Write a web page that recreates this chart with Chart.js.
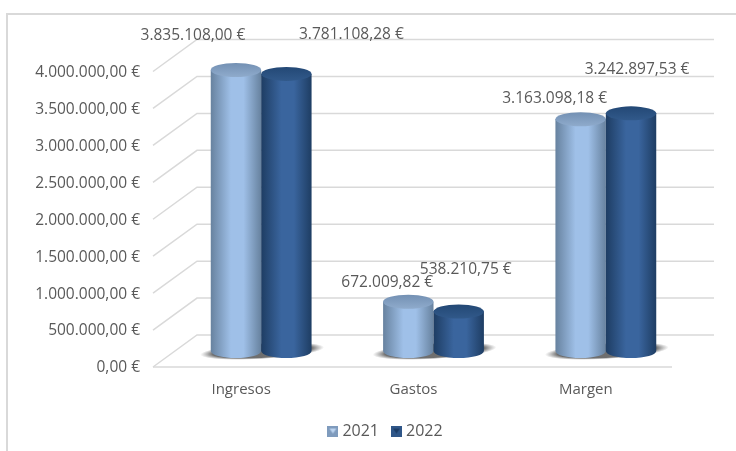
<!DOCTYPE html>
<html>
<head>
<meta charset="utf-8">
<script src="https://cdn.jsdelivr.net/npm/chart.js@4/dist/chart.umd.js"></script>
<style>
  html, body { margin: 0; padding: 0; background: #fff; overflow: hidden; }
  #wrap { position: relative; width: 736px; height: 451px; overflow: hidden; }
  #frame { position: absolute; left: 6px; top: 13px; width: 740px; height: 450px; border: 2px solid #d9d9d9; }
  canvas { position: absolute; left: 0; top: 0; }
</style>
</head>
<body>
<div id="wrap">
  <div id="frame"></div>
  <canvas id="chart" width="736" height="451"></canvas>
</div>
<script>
const categories = ["Ingresos", "Gastos", "Margen"];
const seriesNames = ["2021", "2022"];
const values2021 = [3835108.00, 672009.82, 3163098.18];
const values2022 = [3781108.28, 538210.75, 3242897.53];

// labels were dragged by hand in the original, so each has its own nudge from the bar top
const labelNudge2021 = [[-23, -48], [-1, -35], [-6, -35]];
const labelNudge2022 = [[85, -53], [27, -58], [26, -58]];

const DEPTH_X = 44, DEPTH_Y = 32;     // 3d wall offset
const BAR_DX = 20, BAR_DY = 16;       // bars stand in the middle of the floor
const BAR_SHRINK = 0.992;             // middle of the box is a bit shorter than the axis
const FONT = '"Open Sans"';
const TEXT = '#595959';

const euro = v => v.toLocaleString('es-ES', { minimumFractionDigits: 2, maximumFractionDigits: 2 }) + ' €';

const looks = [
  { edge: '#67829f', mid: '#9fc0e8', top: '#7390b3', topHi: '#8fabcc', box: '#7f9bbd', arrow: '#bcd4f0' },
  { edge: '#1e3d63', mid: '#3a659e', top: '#234875', topHi: '#31598a', box: '#2f5688', arrow: '#1c3c66' }
];

function swatch(look) {
  const c = document.createElement('canvas');
  c.width = c.height = 11;
  const g = c.getContext('2d');
  g.fillStyle = look.box;
  g.fillRect(0, 0, 11, 11);
  g.fillStyle = look.arrow;
  g.beginPath();
  g.moveTo(2, 3); g.lineTo(9, 3); g.lineTo(5.5, 8);
  g.fill();
  return c;
}

function cylinder(ctx, bar, look, ry) {
  const cx = bar.x + BAR_DX, rx = bar.width / 2;
  const top = bar.base - BAR_DY - (bar.base - bar.y) * BAR_SHRINK, bottom = bar.base - BAR_DY;
  const grad = ctx.createLinearGradient(cx - rx, 0, cx + rx, 0);
  grad.addColorStop(0, look.edge);
  grad.addColorStop(0.4, look.mid);
  grad.addColorStop(0.65, look.mid);
  grad.addColorStop(1, look.edge);
  ctx.fillStyle = grad;
  ctx.beginPath();
  ctx.moveTo(cx - rx, top);
  ctx.lineTo(cx - rx, bottom);
  ctx.ellipse(cx, bottom, rx, ry, 0, Math.PI, 0, true);
  ctx.lineTo(cx + rx, top);
  ctx.closePath();
  ctx.fill();
  const capGrad = ctx.createLinearGradient(0, top - ry, 0, top + ry);
  capGrad.addColorStop(0, look.top);
  capGrad.addColorStop(1, look.topHi);
  ctx.fillStyle = capGrad;
  ctx.beginPath();
  ctx.ellipse(cx, top, rx, ry, 0, 0, Math.PI * 2);
  ctx.fill();
}

const walls = {
  id: 'walls',
  beforeDatasetsDraw(chart) {
    const { ctx, chartArea: a, scales: { y } } = chart;
    ctx.save();
    ctx.strokeStyle = '#d9d9d9';
    ctx.lineWidth = 1.5;
    const left = a.left - 2, right = a.right - 2;
    y.ticks.forEach(t => {
      const py = y.getPixelForValue(t.value);
      ctx.beginPath();
      ctx.moveTo(left, py);
      ctx.lineTo(left + DEPTH_X, py - DEPTH_Y);
      ctx.lineTo(right + DEPTH_X, py - DEPTH_Y);
      ctx.stroke();
    });
    // floor front edge
    const floor = y.getPixelForValue(0);
    ctx.beginPath();
    ctx.moveTo(left, floor);
    ctx.lineTo(a.right, floor);
    ctx.stroke();
    ctx.restore();
  }
};

const cylinders = {
  id: 'cylinders',
  afterDatasetsDraw(chart) {
    const { ctx } = chart;
    const m0 = chart.getDatasetMeta(0).data, m1 = chart.getDatasetMeta(1).data;
    ctx.save();
    // soft shadow under each pair, leans up to the right
    m0.forEach((bar, i) => {
      const cx = (bar.x + m1[i].x) / 2 + BAR_DX + 1, cy = bar.base - BAR_DY;
      ctx.save();
      ctx.translate(cx, cy);
      ctx.rotate(-0.06);
      ctx.scale(1, 0.13);
      const r = 62;
      const sh = ctx.createRadialGradient(0, 0, r * 0.8, 0, 0, r);
      sh.addColorStop(0, 'rgba(95,95,95,0.9)');
      sh.addColorStop(1, 'rgba(130,130,130,0)');
      ctx.fillStyle = sh;
      ctx.beginPath();
      ctx.arc(0, 0, r, 0, Math.PI * 2);
      ctx.fill();
      ctx.restore();
    });
    m0.forEach((bar, i) => {
      cylinder(ctx, bar, looks[0], 7);
      cylinder(ctx, m1[i], looks[1], 7);
    });
    // value labels
    ctx.font = '15.5px ' + FONT;
    ctx.fillStyle = TEXT;
    ctx.textAlign = 'center';
    ctx.textBaseline = 'middle';
    [[m0, values2021, labelNudge2021], [m1, values2022, labelNudge2022]].forEach(([bars, vals, nudge]) => {
      bars.forEach((bar, i) => {
        ctx.fillText(euro(vals[i]), bar.x + nudge[i][0], bar.y + nudge[i][1]);
      });
    });
    ctx.restore();
  }
};

const legendShift = {
  id: 'legendShift',
  afterLayout(chart) {
    chart.legend.left += 102;
    chart.legend.top -= 2;
  }
};

new Chart(document.getElementById('chart'), {
  type: 'bar',
  data: {
    labels: categories,
    datasets: [
      { label: seriesNames[0], data: values2021, backgroundColor: 'transparent' },
      { label: seriesNames[1], data: values2022, backgroundColor: 'transparent' }
    ]
  },
  plugins: [legendShift, walls, cylinders],
  options: {
    responsive: false,
    animation: false,
    events: [],
    layout: { padding: { top: 71.5, left: 0, right: 64, bottom: 0 } },
    datasets: { bar: { categoryPercentage: 0.585, barPercentage: 1 } },
    scales: {
      x: {
        grid: { display: false },
        border: { display: false },
        afterFit(s) { s.height = 42; },
        ticks: { color: TEXT, font: { family: FONT, size: 15 }, padding: 6, maxRotation: 0 }
      },
      y: {
        min: 0, max: 4000000,
        grid: { display: false },
        border: { display: false },
        afterFit(s) { s.width = 155; },
        ticks: {
          stepSize: 500000, color: TEXT, padding: 7, labelOffset: 1,
          font: { family: FONT, size: 15.5 },
          callback: v => euro(v)
        }
      }
    },
    plugins: {
      tooltip: { enabled: false },
      legend: {
        position: 'bottom',
        labels: {
          usePointStyle: true,
          boxWidth: 3,
          color: TEXT,
          font: { family: FONT, size: 16 },
          padding: 16,
          generateLabels: chart => chart.data.datasets.map((d, i) => ({
            text: d.label,
            fontColor: TEXT,
            datasetIndex: i,
            pointStyle: swatch(looks[i]),
            lineWidth: 0
          }))
        }
      }
    }
  }
});
</script>
</body>
</html>
